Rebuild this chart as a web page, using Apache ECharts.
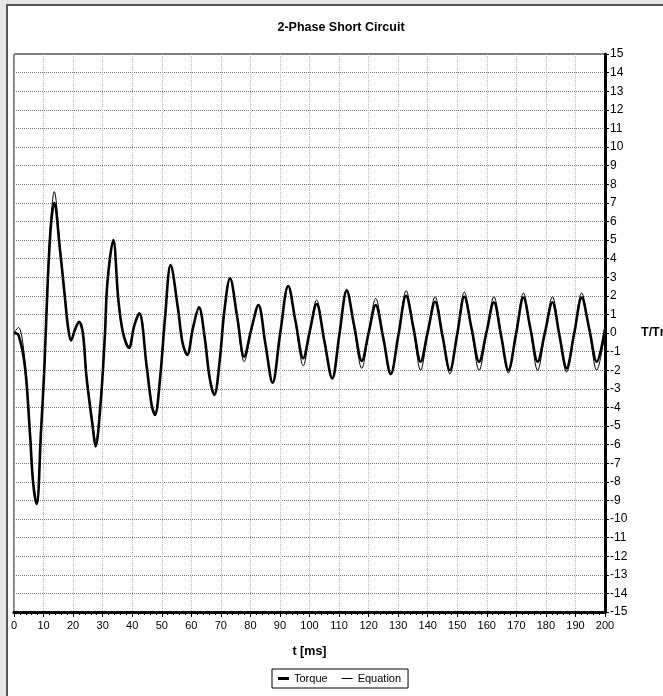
<!DOCTYPE html>
<html>
<head>
<meta charset="utf-8">
<script src="https://cdn.jsdelivr.net/npm/echarts@6/dist/echarts.min.js"></script>
<style>
	html, body { margin: 0; padding: 0; background: #e6e6e6; }
	#chart { width: 663px; height: 696px; }
</style>
</head>
<body>
<div id="chart"></div>
<script>
	// t [ms]
	var timeMs = [0, 1.5, 3.7, 5.4, 6.5, 7.7, 9.1, 10.3, 11.4, 12.5, 13.6, 15.6, 17.3, 18.3, 19.3, 20.7, 22, 23.3, 24.5, 26.6,
		27.6, 29.3, 30.8, 31.6, 33.6, 35.3, 36.9, 38.9, 40.7, 42.4, 44.9, 46.6, 47.7, 49.4, 51.1, 53, 55.5, 57, 58.6, 60.6,
		62.6, 64.5, 66.2, 67.8, 69.6, 71.2, 73.1, 75.5, 77.9, 80.3, 82.7, 85.1, 87.5, 90.1, 92.8, 95.3, 97.9, 100.1, 102.4, 105,
		107.7, 110.1, 112.6, 115.1, 117.7, 120, 122.4, 125, 127.5, 130.1, 132.7, 135.2, 137.6, 140, 142.5, 145, 147.5, 150, 152.4, 154.9,
		157.4, 159.9, 162.4, 164.9, 167.3, 169.9, 172.4, 174.8, 177.2, 179.7, 182.2, 184.6, 187, 189.6, 192.1, 194.7, 197.2, 200];

	// T/Tn
	var torque = [0, -0.1, -1.8, -5.4, -8.1, -9.2, -5.4, -1.8, 2.7, 5.8, 7.0, 4.4, 1.8, 0.3, -0.4, 0.2, 0.6, 0.0, -2.3, -5.0,
		-6.1, -3.8, 0.0, 2.7, 5.0, 1.8, 0.0, -0.8, 0.4, 1.06, -1.8, -3.9, -4.4, -2.5, 0.8, 3.65, 1.3, -0.5, -1.18, 0.3,
		1.38, -0.2, -2.4, -3.33, -1.5, 1.2, 2.94, 0.9, -1.27, 0.2, 1.5, -0.6, -2.67, 0.0, 2.53, 0.6, -1.36, 0.1, 1.56, -0.4,
		-2.44, -0.1, 2.28, 0.4, -1.5, 0.0, 1.5, -0.3, -2.2, -0.1, 2.0, 0.25, -1.54, 0.05, 1.68, -0.15, -2.0, -0.05, 1.95, 0.2,
		-1.54, 0.05, 1.65, -0.2, -2.0, -0.05, 1.9, 0.2, -1.54, 0.05, 1.65, -0.15, -1.9, 0.0, 1.9, 0.2, -1.54, 0.2];

	var equation = [0, 0.3, -1.5, -5.2, -8.0, -9.2, -5.5, -1.8, 3.0, 6.2, 7.6, 4.6, 1.9, 0.3, -0.4, 0.2, 0.6, 0.0, -2.2, -4.8,
		-5.8, -3.6, 0.1, 2.8, 4.95, 1.8, 0.0, -0.7, 0.4, 1.0, -1.8, -3.8, -4.3, -2.4, 0.8, 3.6, 1.3, -0.5, -1.2, 0.3,
		1.35, -0.2, -2.4, -3.3, -1.5, 1.2, 2.95, 0.8, -1.54, 0.1, 1.5, -0.6, -2.7, 0.0, 2.55, 0.5, -1.76, 0.1, 1.77, -0.4,
		-2.45, -0.1, 2.35, 0.3, -1.9, 0.0, 1.86, -0.3, -2.25, -0.1, 2.27, 0.2, -2.0, 0.0, 1.95, -0.1, -2.2, 0.0, 2.2, 0.1,
		-2.0, 0.0, 1.95, -0.1, -2.15, 0.0, 2.15, 0.1, -2.0, 0.0, 1.95, -0.1, -2.1, 0.0, 2.15, 0.1, -2.0, 0.1];

	function pairs(values) {
		var out = [];
		for (var i = 0; i < timeMs.length; i++) {
			out.push([timeMs[i], values[i]]);
		}
		return out;
	}

	var font = 'Liberation Sans, Arial, sans-serif';
	var myChart = echarts.init(document.getElementById('chart'));
	var option = {
		backgroundColor: '#e6e6e6',
		animation: false,
		textStyle: { fontFamily: font },
		graphic: [{
			type: 'rect',
			z: -10,
			shape: { x: 7, y: 5, width: 700, height: 700 },
			style: { fill: '#fff', stroke: '#555', lineWidth: 2 }
		}],
		title: {
			text: '2-Phase Short Circuit',
			left: 336,
			top: 16,
			textAlign: 'center',
			textStyle: { fontFamily: font, fontSize: 12.5, fontWeight: 'bold', color: '#000' }
		},
		legend: {
			left: 272,
			top: 669,
			orient: 'horizontal',
			borderColor: '#000',
			borderWidth: 1,
			padding: [4, 7, 4, 6],
			itemWidth: 11,
			itemHeight: 3,
			itemGap: 14,
			symbolKeepAspect: true,
			textStyle: { fontFamily: font, fontSize: 11, color: '#000' },
			data: [
				{ name: 'Torque', icon: 'rect', itemStyle: { color: '#000' } },
				{ name: 'Equation', icon: 'path://M0,0H11V1H0Z', itemStyle: { color: '#000' } }
			]
		},
		grid: {
			left: 14,
			top: 54,
			width: 591,
			height: 558,
			outerBoundsMode: 'none',
			containLabel: false,
			show: true,
			borderColor: '#000',
			borderWidth: 1,
			backgroundColor: '#fff'
		},
		xAxis: {
			type: 'value',
			min: 0,
			max: 200,
			interval: 10,
			name: 't [ms]',
			nameLocation: 'middle',
			nameGap: 33,
			nameTextStyle: { fontFamily: font, fontSize: 12.5, fontWeight: 'bold', color: '#000' },
			axisLine: { onZero: false, lineStyle: { color: '#000', width: 3 } },
			axisTick: { show: true, length: 5, lineStyle: { color: '#000' } },
			minorTick: { show: true, splitNumber: 5, length: 3, lineStyle: { color: '#000' } },
			axisLabel: { color: '#000', fontSize: 11, margin: 8 },
			splitLine: { show: true, lineStyle: { color: '#b8b8b8', type: 'dotted', width: 1 } }
		},
		yAxis: {
			type: 'value',
			position: 'right',
			min: -15,
			max: 15,
			interval: 1,
			name: 'T/Tn',
			nameLocation: 'middle',
			nameRotate: 0,
			nameGap: 36,
			nameTextStyle: { fontFamily: font, fontSize: 12.5, fontWeight: 'bold', color: '#000', align: 'left' },
			axisLine: { show: true, onZero: false, lineStyle: { color: '#000', width: 3 } },
			axisTick: { show: true, length: 4, lineStyle: { color: '#000' } },
			minorTick: { show: true, splitNumber: 5, length: 2, lineStyle: { color: '#000' } },
			axisLabel: { color: '#000', fontSize: 12, margin: 5 },
			splitLine: { show: true, lineStyle: { color: '#7a7a7a', type: 'dotted', width: 1 } }
		},
		series: [{
			name: 'Torque',
			type: 'line',
			symbol: 'none',
			smooth: 0.35,
			color: '#000',
			lineStyle: { color: '#000', width: 2.6 },
			data: pairs(torque)
		}, {
			name: 'Equation',
			type: 'line',
			symbol: 'none',
			smooth: 0.35,
			color: '#000',
			lineStyle: { color: '#000', width: 1 },
			data: pairs(equation)
		}]
	};
	myChart.setOption(option);
</script>
</body>
</html>
